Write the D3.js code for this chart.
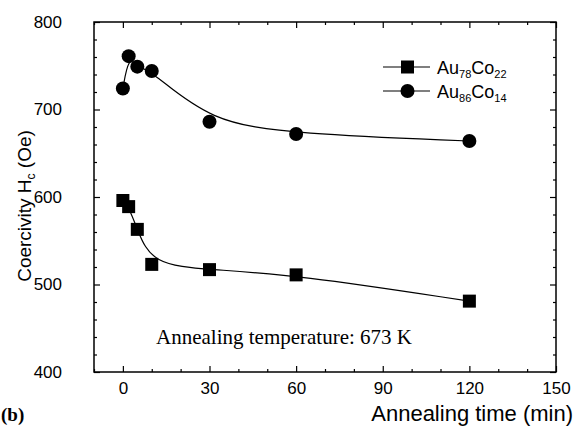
<!DOCTYPE html>
<html>
<head>
<meta charset="utf-8">
<script src="https://cdn.jsdelivr.net/npm/d3@7"></script>
<style>
  body { margin: 0; background: #fff; }
  svg { display: block; }
  .axis text { font-family: "Liberation Sans", Arial, sans-serif; font-size: 17px; fill: #000; }
  .axis line { stroke: #000; stroke-width: 1.2px; }
  .axis path { display: none; }
</style>
</head>
<body>
<div id="chart"></div>
<script>
// data
const times = [0, 2, 5, 10, 30, 60, 120];
const au78co22 = [596, 589, 563, 523, 517, 511, 481];
const au86co14 = [724, 761, 749, 744, 686, 672, 664];
const xTicks = [0, 30, 60, 90, 120, 150];
const yTicks = [400, 500, 600, 700, 800];

const width = 583, height = 427;
const margin = {top: 22, right: 27, bottom: 55, left: 94};

const svg = d3.select("#chart")
  .append("svg")
    .attr("width", width)
    .attr("height", height);

const x = d3.scaleLinear()
    .domain([-10, 150])
    .range([margin.left, width - margin.right]);
const y = d3.scaleLinear()
    .domain([400, 800])
    .range([height - margin.bottom, margin.top]);

const minorX = d3.range(-10, 151, 10).filter(d => !xTicks.includes(d));
const minorY = d3.range(400, 801, 20).filter(d => !yTicks.includes(d));

// major ticks, pointing inward
svg.append("g").attr("class", "axis")
  .attr("transform", `translate(0,${y(400)})`)
  .call(d3.axisBottom(x).tickValues(xTicks).tickSize(-6).tickSizeOuter(0).tickPadding(10));
svg.append("g").attr("class", "axis")
  .attr("transform", `translate(0,${y(800)})`)
  .call(d3.axisTop(x).tickValues(xTicks).tickSize(-6).tickSizeOuter(0).tickFormat(""));
svg.append("g").attr("class", "axis")
  .attr("transform", `translate(${x(-10)},0)`)
  .call(d3.axisLeft(y).tickValues(yTicks).tickSize(-6).tickSizeOuter(0).tickPadding(32));
svg.append("g").attr("class", "axis")
  .attr("transform", `translate(${x(150)},0)`)
  .call(d3.axisRight(y).tickValues(yTicks).tickSize(-6).tickSizeOuter(0).tickFormat(""));

// minor ticks
svg.append("g").attr("class", "axis")
  .attr("transform", `translate(0,${y(400)})`)
  .call(d3.axisBottom(x).tickValues(minorX).tickSize(-3).tickSizeOuter(0).tickFormat(""));
svg.append("g").attr("class", "axis")
  .attr("transform", `translate(0,${y(800)})`)
  .call(d3.axisTop(x).tickValues(minorX).tickSize(-3).tickSizeOuter(0).tickFormat(""));
svg.append("g").attr("class", "axis")
  .attr("transform", `translate(${x(-10)},0)`)
  .call(d3.axisLeft(y).tickValues(minorY).tickSize(-3).tickSizeOuter(0).tickFormat(""));
svg.append("g").attr("class", "axis")
  .attr("transform", `translate(${x(150)},0)`)
  .call(d3.axisRight(y).tickValues(minorY).tickSize(-3).tickSizeOuter(0).tickFormat(""));

// frame
svg.append("rect")
  .attr("x", x(-10)).attr("y", y(800))
  .attr("width", x(150) - x(-10)).attr("height", y(400) - y(800))
  .attr("fill", "none").attr("stroke", "#000").attr("stroke-width", 1.5);

// smoothed lines
const line = d3.line().curve(d3.curveBasis)
  .x(d => x(d[0])).y(d => y(d[1]));

const sq = times.map((t, i) => [t, au78co22[i]]);
const ci = times.map((t, i) => [t, au86co14[i]]);

svg.append("path").datum(sq)
  .attr("fill", "none").attr("stroke", "#000").attr("stroke-width", 1.2)
  .attr("d", line);
svg.append("path").datum(ci)
  .attr("fill", "none").attr("stroke", "#000").attr("stroke-width", 1.2)
  .attr("d", line);

// markers
svg.append("g").selectAll("rect")
  .data(sq)
  .join("rect")
    .attr("x", d => x(d[0]) - 6.5)
    .attr("y", d => y(d[1]) - 6.5)
    .attr("width", 13).attr("height", 13)
    .attr("fill", "#000");
svg.append("g").selectAll("circle")
  .data(ci)
  .join("circle")
    .attr("cx", d => x(d[0]))
    .attr("cy", d => y(d[1]))
    .attr("r", 7)
    .attr("fill", "#000");

// legend
const legend = [
  {name: "Au", a: "78", b: "22", shape: "square", yy: 67},
  {name: "Au", a: "86", b: "14", shape: "circle", yy: 91}
];
const lg = svg.append("g");
legend.forEach(l => {
  lg.append("line")
    .attr("x1", 383).attr("x2", 430).attr("y1", l.yy).attr("y2", l.yy)
    .attr("stroke", "#000").attr("stroke-width", 1.2);
  if (l.shape === "square") {
    lg.append("rect").attr("x", 401).attr("y", l.yy - 6.5).attr("width", 13).attr("height", 13).attr("fill", "#000");
  } else {
    lg.append("circle").attr("cx", 407.5).attr("cy", l.yy).attr("r", 7).attr("fill", "#000");
  }
  const t = lg.append("text")
    .attr("x", 437).attr("y", l.yy + 7)
    .style("font-family", "Liberation Sans, Arial, sans-serif")
    .style("font-size", "18px");
  t.append("tspan").text("Au");
  t.append("tspan").attr("dy", 4).style("font-size", "11px").text(l.a);
  t.append("tspan").attr("dy", -4).text("Co");
  t.append("tspan").attr("dy", 4).style("font-size", "11px").text(l.b);
});

// annotation
svg.append("text")
  .attr("x", 156).attr("y", 344)
  .style("font-family", "Liberation Serif, Times New Roman, serif")
  .style("font-size", "21px")
  .text("Annealing temperature: 673 K");

// axis titles
svg.append("text")
  .attr("x", 573).attr("y", 421)
  .attr("text-anchor", "end")
  .style("font-family", "Liberation Sans, Arial, sans-serif")
  .style("font-size", "22px")
  .text("Annealing time (min)");

const yt = svg.append("text")
  .attr("transform", "translate(31,206) rotate(-90)")
  .attr("text-anchor", "middle")
  .style("font-family", "Liberation Sans, Arial, sans-serif")
  .style("font-size", "19px");
yt.append("tspan").text("Coercivity H");
yt.append("tspan").attr("dy", 4).style("font-size", "12px").text("c");
yt.append("tspan").attr("dy", -4).text(" (Oe)");

svg.append("text")
  .attr("x", 1).attr("y", 421)
  .style("font-family", "Liberation Serif, Times New Roman, serif")
  .style("font-size", "19px")
  .style("font-weight", "bold")
  .text("(b)");
</script>
</body>
</html>
